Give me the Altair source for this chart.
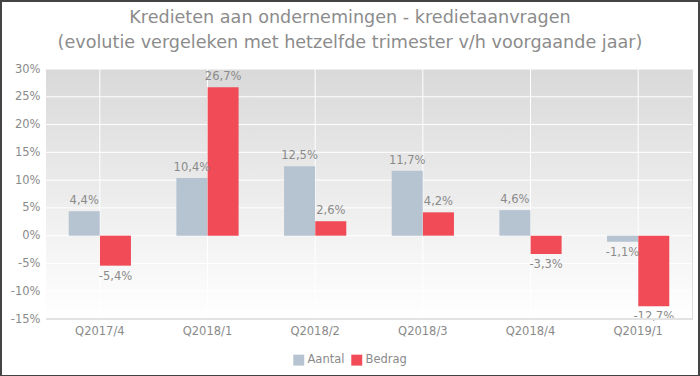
import altair as alt
import pandas as pd

categories = ["Q2017/4", "Q2018/1", "Q2018/2", "Q2018/3", "Q2018/4", "Q2019/1"]
aantal = [4.4, 10.4, 12.5, 11.7, 4.6, -1.1]
bedrag = [-5.4, 26.7, 2.6, 4.2, -3.3, -12.7]
series = ["Aantal", "Bedrag"]
colors = ["#b6c4d1", "#f04b56"]
y_ticks = [-15, -10, -5, 0, 5, 10, 15, 20, 25, 30]

rows = []
for c, a, b in zip(categories, aantal, bedrag):
    rows.append({"cat": c, "serie": series[0], "val": a})
    rows.append({"cat": c, "serie": series[1], "val": b})
df = pd.DataFrame(rows)

W, H = 646, 250
grey = "#8a8a8a"
FONT = "DejaVu Sans"
FS = 11.5

xscale = alt.Scale(domain=categories, paddingInner=0.42, paddingOuter=0.21)
yscale = alt.Scale(domain=[-15, 30], nice=False, zero=False)
xaxis = alt.Axis(title=None, labelAngle=0, labelColor=grey, labelFontSize=FS,
                 labelFont=FONT, ticks=False, domain=False, grid=False, labelPadding=6)
yaxis = alt.Axis(title=None, values=y_ticks, labelExpr="datum.value + '%'",
                 labelColor=grey, labelFontSize=FS, labelFont=FONT,
                 labelOverlap=False, ticks=False, domain=False, grid=False, labelPadding=6)

def X(field):
    return alt.X(field, scale=xscale, axis=xaxis, title=None)

def Y(field):
    return alt.Y(field, scale=yscale, axis=yaxis, title=None)

color = alt.Color("serie:N", scale=alt.Scale(domain=series, range=colors),
                  legend=alt.Legend(title=None, orient="none", direction="horizontal",
                                    legendX=247, legendY=285, symbolType="square",
                                    symbolSize=120, symbolStrokeWidth=0,
                                    labelColor=grey, labelFontSize=FS, labelFont=FONT,
                                    columnPadding=6, symbolOffset=0, labelOffset=3))

one = pd.DataFrame({"a": [0]})
bg = alt.Chart(one).mark_rect(
    color=alt.Gradient(gradient="linear",
                       stops=[alt.GradientStop(color="#d9d9d9", offset=0),
                              alt.GradientStop(color="#ffffff", offset=1)],
                       x1=0, x2=0, y1=0, y2=1)
).encode(x=alt.value(0), x2=alt.value(W), y=alt.value(0), y2=alt.value(H))

hgrid = alt.Chart(pd.DataFrame({"val": y_ticks[1:]})).mark_rule(color="white", strokeWidth=1).encode(
    y=Y("val:Q"), x=alt.value(0), x2=alt.value(W)
)
vgrid = alt.Chart(pd.DataFrame({"cat": categories})).mark_rule(color="white", strokeWidth=1).encode(
    x=X("cat:N"), y=alt.value(0), y2=alt.value(H)
)

base = alt.Chart(df)
bars = base.mark_bar(size=31).encode(
    x=X("cat:N"), xOffset=alt.XOffset("serie:N", sort=series), y=Y("val:Q"),
    y2=alt.datum(0), color=color
)
lab = "(datum.val < 0 ? '-' : '') + replace(format(abs(datum.val), '.1f'), '.', ',') + '%'"
pos = base.transform_filter("datum.val >= 0").transform_calculate(lbl=lab).mark_text(
    baseline="bottom", dy=-5, color=grey, fontSize=FS, font=FONT
).encode(x=X("cat:N"), xOffset=alt.XOffset("serie:N", sort=series), y=Y("val:Q"), text="lbl:N")
neg = base.transform_filter("datum.val < 0").transform_calculate(lbl=lab).mark_text(
    baseline="top", dy=5, color=grey, fontSize=FS, font=FONT
).encode(x=X("cat:N"), xOffset=alt.XOffset("serie:N", sort=series), y=Y("val:Q"), text="lbl:N")

bottom_line = alt.Chart(one).mark_rule(color="#e3e3e3", strokeWidth=2).encode(
    x=alt.value(0), x2=alt.value(W), y=alt.value(H)
)
frame = alt.Chart(one).mark_rect(
    fill=None, stroke="#444444", strokeWidth=2
).encode(x=alt.value(-45), x2=alt.value(W + 7), y=alt.value(-68), y2=alt.value(H + 57))

chart = alt.layer(bg, hgrid, vgrid, bars, pos, neg, bottom_line, frame).properties(
    width=W, height=H,
    title=alt.TitleParams(
        ["Kredieten aan ondernemingen - kredietaanvragen",
         "(evolutie vergeleken met hetzelfde trimester v/h voorgaande jaar)"],
        anchor="middle", frame="group", dx=-19, offset=-52, fontSize=17.6, font=FONT,
        fontWeight="normal", color="#8c8c8c", lineHeight=25),
    padding={"left": 46, "top": 69, "right": 8, "bottom": 57},
    autosize=alt.AutoSizeParams(type="none"),
).configure_view(stroke=None).configure(background="white")

chart.save("out.html", embed_options={"renderer": "svg", "actions": False})
